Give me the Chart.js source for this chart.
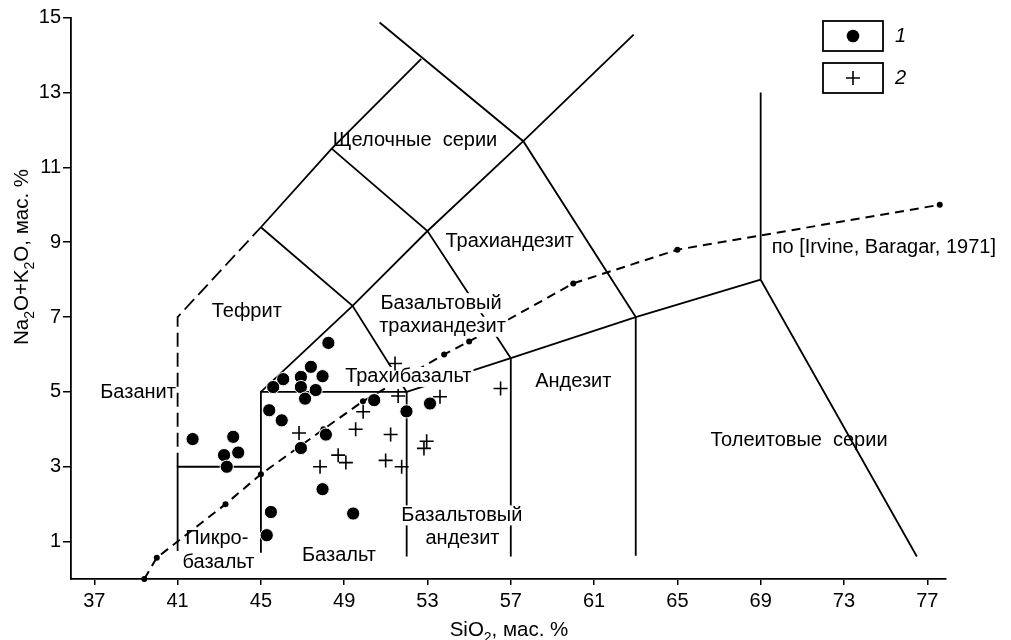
<!DOCTYPE html>
<html>
<head>
<meta charset="utf-8">
<script src="https://cdn.jsdelivr.net/npm/chart.js@4.4.1/dist/chart.umd.min.js"></script>
<style>
  html, body { margin: 0; padding: 0; background: #fff; }
</style>
</head>
<body>
<canvas id="tas" width="1011" height="640"></canvas>
<script>
// --- data (SiO2, Na2O+K2O in wt %) ---
const sio2Group1 = [48.24, 47.40, 47.96, 46.92, 46.07, 45.59, 46.92, 47.63, 47.12, 45.40, 46.00, 48.12, 46.92,
                    50.44, 51.99, 53.12, 41.72, 43.67, 43.91, 43.23, 43.36, 47.96, 45.48, 49.43, 45.28];
const alkGroup1  = [6.31, 5.67, 5.42, 5.40, 5.34, 5.13, 5.13, 5.05, 4.82, 4.51, 4.24, 3.86, 3.50,
                    4.78, 4.48, 4.69, 3.74, 3.80, 3.38, 3.31, 3.00, 2.40, 1.79, 1.75, 1.17];

const sio2Group2 = [51.44, 51.59, 53.60, 49.91, 49.55, 46.83, 51.23, 52.96, 52.83, 48.71, 49.08, 47.84, 50.99, 51.76, 56.51];
const alkGroup2  = [5.76, 4.89, 4.87, 4.47, 4.00, 3.90, 3.86, 3.68, 3.49, 3.31, 3.11, 3.00, 3.17, 3.00, 5.09];

// alkaline / subalkaline divide, Irvine & Baragar (1971)
const irvineSiO2 = [39.4, 40.0, 43.3, 45.0, 48.0, 49.9, 53.8, 55.0, 60.0, 65.0, 77.6];
const irvineAlk  = [0.0, 0.57, 2.0, 2.8, 4.0, 4.75, 6.0, 6.35, 7.9, 8.8, 10.0];

// TAS field boundaries, [SiO2, alkalis]
const dashedBoundary = [[41, 3], [41, 7], [45, 9.4]];
const picroBoundary  = [[45, 3], [41, 3], [41, 0.75]];
const basaltBoundary = [[45, 0.7], [45, 5], [52, 5], [52, 0.6]];
const alkaliLine     = [[45, 5], [49.4, 7.3], [53, 9.3], [57.6, 11.7], [62.9, 14.55]];
const tephriteLine   = [[45, 9.4], [48.4, 11.5], [52.7, 13.9]];
const trachybasLine  = [[45, 9.4], [49.4, 7.3], [52, 5]];
const trachyandLine  = [[48.4, 11.5], [53, 9.3], [57, 5.9]];
const upperLine      = [[50.7, 14.87], [57.6, 11.7], [63, 7]];
const subalkLine     = [[52, 5], [57, 5.9], [63, 7], [69, 8]];
const andesiteLeft   = [[57, 0.6], [57, 5.9]];
const andesiteRight  = [[63, 0.62], [63, 7]];
const tholeiiteLine  = [[69, 13], [69, 8], [76.5, 0.6]];

const xTicks = [37, 41, 45, 49, 53, 57, 61, 65, 69, 73, 77];
const yTicks = [1, 3, 5, 7, 9, 11, 13, 15];

const fieldLabels = [
  { t: 'Щелочные  серии', x: 52.4, y: 11.73 },
  { t: 'Трахиандезит', x: 56.95, y: 9.01 },
  { t: 'Тефрит', x: 44.32, y: 7.14 },
  { t: 'Базальтовый', x: 53.65, y: 7.37, bg: true },
  { t: 'трахиандезит', x: 53.72, y: 6.74, bg: true },
  { t: 'Трахибазальт', x: 52.08, y: 5.40, bg: true },
  { t: 'Андезит', x: 60.0, y: 5.27 },
  { t: 'Базанит', x: 39.1, y: 4.99 },
  { t: 'Пикро-', x: 42.88, y: 1.08 },
  { t: 'базальт', x: 42.96, y: 0.45 },
  { t: 'Базальт', x: 48.75, y: 0.63 },
  { t: 'Базальтовый', x: 54.65, y: 1.70, bg: true },
  { t: 'андезит', x: 54.68, y: 1.08 },
  { t: 'Толеитовые  серии', x: 70.84, y: 3.71 },
  { t: 'по [Irvine, Baragar, 1971]', x: 69.53, y: 8.86, align: 'left' }
];

const FONT = "'Liberation Sans', Arial, sans-serif";

const toPts = arr => arr.map(p => ({ x: p[0], y: p[1] }));
const zipPts = (xs, ys) => xs.map((v, i) => ({ x: v, y: ys[i] }));

function boundary(points, dashed) {
  return {
    data: toPts(points),
    showLine: true,
    borderColor: '#000',
    borderWidth: 1.8,
    borderDash: dashed ? [14, 6] : [],
    pointRadius: 0,
    fill: false,
    clip: false
  };
}

// draws text with subscript parts, parts = [[text, isSub], ...]
function richWidth(ctx, parts, size) {
  let w = 0;
  parts.forEach(p => {
    ctx.font = (p[1] ? size * 0.68 : size) + 'px ' + FONT;
    w += ctx.measureText(p[0]).width;
  });
  return w;
}
function drawRich(ctx, parts, x, y, size) {
  let cx = x;
  parts.forEach(p => {
    ctx.font = (p[1] ? size * 0.68 : size) + 'px ' + FONT;
    ctx.fillText(p[0], cx, p[1] ? y + size * 0.28 : y);
    cx += ctx.measureText(p[0]).width;
  });
}

const labelPlugin = {
  id: 'fieldLabels',
  beforeDatasetDraw(chart, args) {
    if (args.index !== 1) return;   // just before the data points are drawn
    const ctx = chart.ctx, xs = chart.scales.x, ys = chart.scales.y;
    ctx.save();
    ctx.font = '20px ' + FONT;
    ctx.textBaseline = 'middle';
    fieldLabels.forEach(l => {
      const px = xs.getPixelForValue(l.x), py = ys.getPixelForValue(l.y);
      const w = ctx.measureText(l.t).width;
      const left = l.align === 'left' ? px : px - w / 2;
      if (l.bg) {
        ctx.fillStyle = '#fff';
        ctx.fillRect(left - 2, py - 10, w + 4, 20);
      }
      ctx.fillStyle = '#000';
      ctx.textAlign = 'left';
      ctx.fillText(l.t, left, py);
    });
    ctx.restore();
  },
  afterDraw(chart) {
    const ctx = chart.ctx;
    ctx.save();
    ctx.fillStyle = '#000';
    ctx.textBaseline = 'alphabetic';
    ctx.textAlign = 'left';
    // x axis title
    const xt = [['SiO', 0], ['2', 1], [', мас. %', 0]];
    const wx = richWidth(ctx, xt, 20.5);
    drawRich(ctx, xt, 509 - wx / 2, 636, 20.5);
    // y axis title
    const yt = [['Na', 0], ['2', 1], ['O+K', 0], ['2', 1], ['O, мас. %', 0]];
    const wy = richWidth(ctx, yt, 20.5);
    ctx.translate(28, 257);
    ctx.rotate(-Math.PI / 2);
    drawRich(ctx, yt, -wy / 2, 0, 20.5);
    ctx.restore();

    // legend: boxed markers
    ctx.save();
    const sets = chart.data.datasets.slice(0, 2);
    sets.forEach((ds, i) => {
      const top = 21 + i * 42;
      ctx.strokeStyle = '#000';
      ctx.lineWidth = 1.8;
      ctx.strokeRect(823, top, 60, 30);
      const cx = 853, cy = top + 15;
      if (i === 0) {
        ctx.beginPath();
        ctx.arc(cx, cy, 6.3, 0, Math.PI * 2);
        ctx.fillStyle = '#000';
        ctx.fill();
      } else {
        ctx.lineWidth = 1.6;
        ctx.beginPath();
        ctx.moveTo(cx - 7, cy); ctx.lineTo(cx + 7, cy);
        ctx.moveTo(cx, cy - 7); ctx.lineTo(cx, cy + 7);
        ctx.stroke();
      }
      ctx.fillStyle = '#000';
      ctx.font = 'italic 20px ' + FONT;
      ctx.textBaseline = 'middle';
      ctx.fillText(ds.label, 895, cy);
    });
    ctx.restore();
  }
};

new Chart(document.getElementById('tas'), {
  type: 'scatter',
  data: {
    datasets: [
      {
        label: '1',
        data: zipPts(sio2Group1, alkGroup1),
        pointStyle: 'circle',
        pointRadius: 6.6,
        backgroundColor: '#000',
        borderColor: '#fff',
        borderWidth: 1,
        clip: false
      },
      {
        label: '2',
        data: zipPts(sio2Group2, alkGroup2),
        pointStyle: 'cross',
        pointRadius: 7,
        borderColor: '#000',
        borderWidth: 1.6,
        clip: false
      },
      {
        label: 'Irvine, Baragar',
        data: zipPts(irvineSiO2, irvineAlk),
        showLine: true,
        borderColor: '#000',
        borderWidth: 2,
        borderDash: [9, 6],
        pointRadius: 3,
        pointBackgroundColor: '#000',
        pointBorderWidth: 0,
        clip: false
      },
      boundary(dashedBoundary, true),
      boundary(picroBoundary),
      boundary(basaltBoundary),
      boundary(alkaliLine),
      boundary(tephriteLine),
      boundary(trachybasLine),
      boundary(trachyandLine),
      boundary(upperLine),
      boundary(subalkLine),
      boundary(andesiteLeft),
      boundary(andesiteRight),
      boundary(tholeiiteLine)
    ]
  },
  options: {
    responsive: false,
    devicePixelRatio: 1,
    animation: false,
    layout: { padding: { top: 17.7, right: 65, bottom: 0, left: 0 } },
    plugins: { legend: { display: false }, tooltip: { enabled: false } },
    scales: {
      x: {
        type: 'linear',
        min: 35.88,
        max: 77.9,
        afterBuildTicks: s => { s.ticks = xTicks.map(v => ({ value: v })); },
        afterFit: s => { s.height = 61; },
        ticks: { color: '#000', font: { family: FONT, size: 20 }, padding: 4, autoSkip: false, maxRotation: 0 },
        grid: { drawOnChartArea: false, drawTicks: true, tickLength: 6, color: '#000', lineWidth: 1.5 },
        border: { color: '#000', width: 1.8 }
      },
      y: {
        type: 'linear',
        min: 0,
        max: 15,
        afterBuildTicks: s => { s.ticks = yTicks.map(v => ({ value: v })); },
        afterFit: s => { s.width = 71; },
        ticks: { color: '#000', font: { family: FONT, size: 20 }, padding: 2, autoSkip: false },
        grid: { drawOnChartArea: false, drawTicks: true, tickLength: 8, color: '#000', lineWidth: 1.5 },
        border: { color: '#000', width: 1.8 }
      }
    }
  },
  plugins: [labelPlugin]
});
</script>
</body>
</html>
